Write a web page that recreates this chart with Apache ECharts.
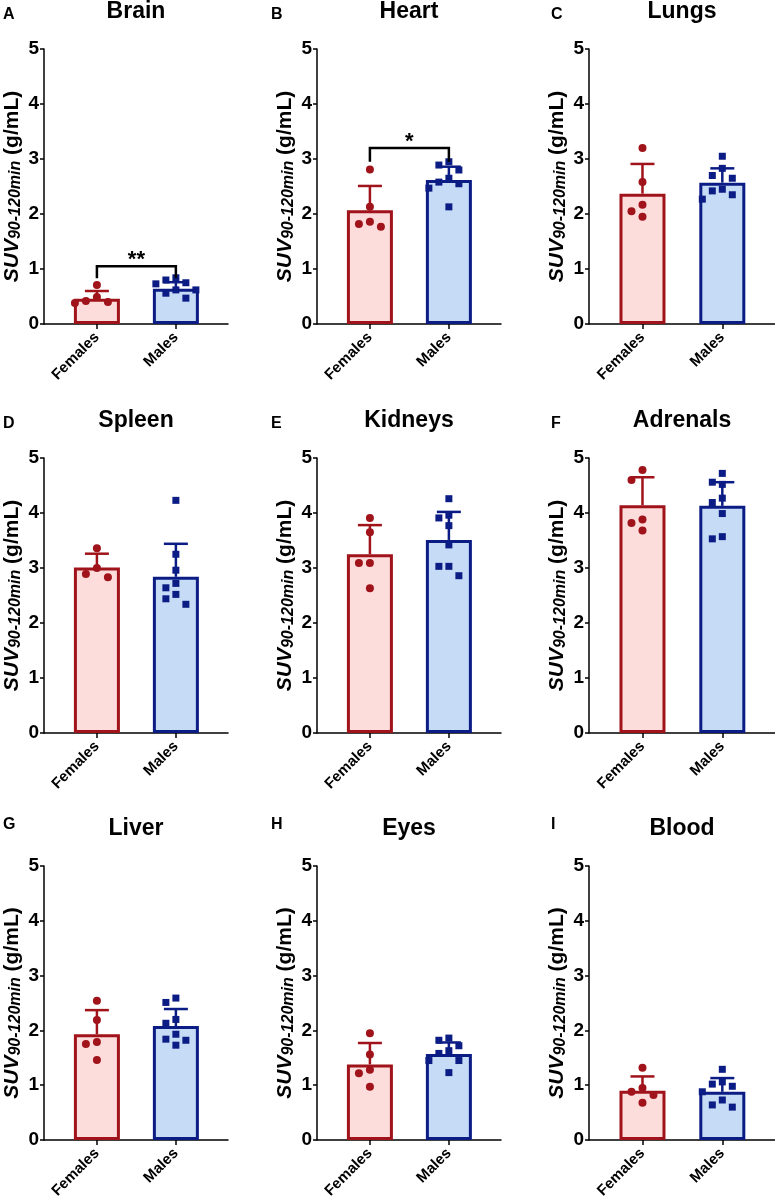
<!DOCTYPE html>
<html>
<head>
<meta charset="utf-8">
<script src="https://cdn.jsdelivr.net/npm/echarts@6/dist/echarts.min.js"></script>
<style>
  html, body { margin: 0; padding: 0; background: #fff; }
  #chart { width: 775px; height: 1201px; }
</style>
</head>
<body>
<div id="chart"></div>
<script>
// organs and panel letters
const organs = ['Brain', 'Heart', 'Lungs', 'Spleen', 'Kidneys', 'Adrenals', 'Liver', 'Eyes', 'Blood'];
const letters = ['A', 'B', 'C', 'D', 'E', 'F', 'G', 'H', 'I'];
const groups = ['Females', 'Males'];

// bar heights (mean) and upper error bar (SD)
const femaleMean = [0.46, 2.07, 2.37, 3.01, 3.25, 4.14, 1.93, 1.38, 0.90];
const femaleSD   = [0.14, 0.44, 0.54, 0.25, 0.53, 0.51, 0.44, 0.39, 0.26];
const maleMean   = [0.64, 2.62, 2.57, 2.84, 3.51, 4.13, 2.08, 1.57, 0.88];
const maleSD     = [0.12, 0.24, 0.26, 0.60, 0.51, 0.43, 0.31, 0.21, 0.25];

// individual animals
const femalePoints = [
  [0.71, 0.49, 0.40, 0.38, 0.42],
  [2.81, 2.13, 1.86, 1.77, 1.82],
  [3.20, 2.58, 2.17, 2.05, 1.95],
  [3.36, 3.00, 2.83, 2.89],
  [3.91, 3.65, 3.09, 3.09, 2.63],
  [4.78, 4.60, 3.88, 3.82, 3.68],
  [2.54, 2.19, 1.79, 1.75, 1.46],
  [1.95, 1.56, 1.28, 1.22, 0.97],
  [1.32, 0.95, 0.88, 0.82, 0.68]
];
const malePoints = [
  [0.84, 0.80, 0.75, 0.73, 0.62, 0.62, 0.56, 0.47],
  [2.95, 2.80, 2.89, 2.65, 2.55, 2.58, 2.47, 2.13],
  [3.05, 2.83, 2.65, 2.70, 2.45, 2.42, 2.27, 2.35],
  [4.23, 3.25, 2.96, 2.64, 2.72, 2.52, 2.44, 2.34],
  [4.26, 3.96, 3.91, 3.77, 3.42, 3.03, 3.03, 2.86],
  [4.72, 4.56, 4.52, 4.27, 4.19, 3.99, 3.53, 3.57],
  [2.59, 2.51, 2.20, 2.13, 1.93, 1.84, 1.82, 1.73],
  [1.82, 1.86, 1.72, 1.63, 1.58, 1.45, 1.45, 1.23],
  [1.29, 1.06, 0.98, 1.02, 0.88, 0.73, 0.60, 0.64]
];

// significance brackets
const sigPanel = [0, 1];
const sigTop   = [1.05, 3.20];
const sigFoot  = [0.83, 2.95];
const sigText  = ['**', '*'];

// colours
const femaleDark = '#A0131A', femaleFill = '#FDDCDC';
const maleDark = '#0C1C85', maleFill = '#C6DCF6';
const FONT = 'Liberation Sans, Arial, sans-serif';

// layout of the 3x3 grid
const colLeft = [44, 317, 589];
const colWidth = [184, 184, 186];
const rowTop = [49, 458, 866];
const rowHeight = [275, 275, 274];
const xMin = -0.67, xMax = 1.66;

// simple beeswarm so points don't sit on top of each other
function swarm(values, pxX, pxY, step) {
  const placed = [];
  const out = new Array(values.length);
  const order = values.map((v, i) => i).sort((a, b) => values[b] - values[a]);
  order.forEach(i => {
    const y = values[i] * pxY;
    for (let k = 0; k < 40; k++) {
      const off = k === 0 ? 0 : (k % 2 ? -1 : 1) * Math.ceil(k / 2) * step;
      if (placed.every(p => Math.hypot(p[0] - off, p[1] - y) >= step)) {
        placed.push([off, y]);
        out[i] = off / pxX;
        break;
      }
    }
  });
  return out;
}

const grids = [], xAxes = [], yAxes = [], series = [], graphics = [];

organs.forEach((organ, i) => {
  const r = Math.floor(i / 3), c = i % 3;
  grids.push({ left: colLeft[c], top: rowTop[r], width: colWidth[c], height: rowHeight[r] });

  xAxes.push({
    gridIndex: i, type: 'value', min: xMin, max: xMax,
    splitLine: { show: false },
    axisLine: { onZero: false, lineStyle: { color: '#000', width: 1.5 } },
    axisTick: { customValues: [0, 1], length: 5, lineStyle: { color: '#000', width: 1.5 } },
    axisLabel: {
      customValues: [0, 1], rotate: 45, margin: 11,
      formatter: v => groups[Math.round(v)],
      color: '#000', fontFamily: FONT, fontWeight: 'bold', fontSize: 15
    }
  });

  yAxes.push({
    gridIndex: i, type: 'value', min: 0, max: 5, interval: 1,
    splitLine: { show: false },
    axisLine: { show: true, onZero: false, lineStyle: { color: '#000', width: 1.5 } },
    axisTick: { show: true, length: 4, lineStyle: { color: '#000', width: 1.5 } },
    axisLabel: { color: '#000', fontFamily: FONT, fontWeight: 'bold', fontSize: 19, margin: 5 },
    name: '{suv|SUV}{sub|90-120min}{unit| (g/mL)}',
    nameLocation: 'middle', nameRotate: 90, nameGap: 20,
    nameTextStyle: {
      fontFamily: FONT,
      rich: {
        suv: { fontSize: 21, fontWeight: 'bold', fontStyle: 'italic', color: '#000', fontFamily: FONT, lineHeight: 24 },
        sub: { fontSize: 16, fontWeight: 'bold', fontStyle: 'italic', color: '#000', fontFamily: FONT, lineHeight: 17, verticalAlign: 'bottom' },
        unit: { fontSize: 21, fontWeight: 'bold', color: '#000', fontFamily: FONT, lineHeight: 24 }
      }
    }
  });

  series.push({
    type: 'bar', xAxisIndex: i, yAxisIndex: i, barWidth: 46, z: 2,
    data: [
      { value: [0, femaleMean[i]], itemStyle: { color: femaleFill, borderColor: femaleDark, borderWidth: 3 } },
      { value: [1, maleMean[i]], itemStyle: { color: maleFill, borderColor: maleDark, borderWidth: 3 } }
    ],
    animation: false
  });

  series.push({
    type: 'custom', xAxisIndex: i, yAxisIndex: i, z: 3, clip: false, animation: false,
    data: [[0, femaleMean[i], femaleSD[i]], [1, maleMean[i], maleSD[i]]],
    renderItem(params, api) {
      const x = api.value(0), m = api.value(1), s = api.value(2);
      const base = api.coord([x, m]), top = api.coord([x, m + s]);
      const color = x === 0 ? femaleDark : maleDark;
      const st = { stroke: color, lineWidth: 2.5 };
      return { type: 'group', children: [
        { type: 'line', shape: { x1: base[0], y1: base[1], x2: top[0], y2: top[1] }, style: st },
        { type: 'line', shape: { x1: top[0] - 12, y1: top[1], x2: top[0] + 12, y2: top[1] }, style: st }
      ] };
    }
  });

  const pxX = colWidth[c] / (xMax - xMin), pxY = rowHeight[r] / 5;
  const fOff = swarm(femalePoints[i], pxX, pxY, 11);
  const mOff = swarm(malePoints[i], pxX, pxY, 10);
  series.push({
    type: 'scatter', xAxisIndex: i, yAxisIndex: i, z: 4, animation: false,
    symbol: 'circle', symbolSize: 8, itemStyle: { color: femaleDark, opacity: 1 },
    data: femalePoints[i].map((v, k) => [fOff[k], v])
  });
  series.push({
    type: 'scatter', xAxisIndex: i, yAxisIndex: i, z: 4, animation: false,
    symbol: 'rect', symbolSize: 7, itemStyle: { color: maleDark, opacity: 1 },
    data: malePoints[i].map((v, k) => [1 + mOff[k], v])
  });

  graphics.push({
    type: 'text', x: colLeft[c] + colWidth[c] / 2, y: rowTop[r] - 37,
    style: { text: organ, font: 'bold 23px ' + FONT, fill: '#000', textAlign: 'center', textVerticalAlign: 'middle' }
  });
  graphics.push({
    type: 'text', x: [3, 271, 551][c], y: [15, 424, 825][r],
    style: { text: letters[i], font: 'bold 16px ' + FONT, fill: '#000', textAlign: 'left', textVerticalAlign: 'middle' }
  });
});

sigPanel.forEach((p, k) => {
  series.push({
    type: 'custom', xAxisIndex: p, yAxisIndex: p, z: 5, clip: false, animation: false,
    data: [[0, 1, sigTop[k], sigFoot[k]]],
    renderItem(params, api) {
      const a = api.coord([api.value(0), api.value(3)]);
      const b = api.coord([api.value(0), api.value(2)]);
      const cc = api.coord([api.value(1), api.value(2)]);
      const d = api.coord([api.value(1), api.value(3)]);
      return { type: 'group', children: [
        { type: 'polyline', shape: { points: [a, b, cc, d] }, style: { stroke: '#000', lineWidth: 2.5, fill: null } },
        { type: 'text', x: (b[0] + cc[0]) / 2, y: b[1] - 6,
          style: { text: sigText[k], font: 'bold 22px ' + FONT, fill: '#000', textAlign: 'center', textVerticalAlign: 'middle' } }
      ] };
    }
  });
});

const chart = echarts.init(document.getElementById('chart'));
chart.setOption({
  animation: false,
  backgroundColor: '#fff',
  grid: grids,
  xAxis: xAxes,
  yAxis: yAxes,
  series: series,
  graphic: graphics
});
</script>
</body>
</html>
